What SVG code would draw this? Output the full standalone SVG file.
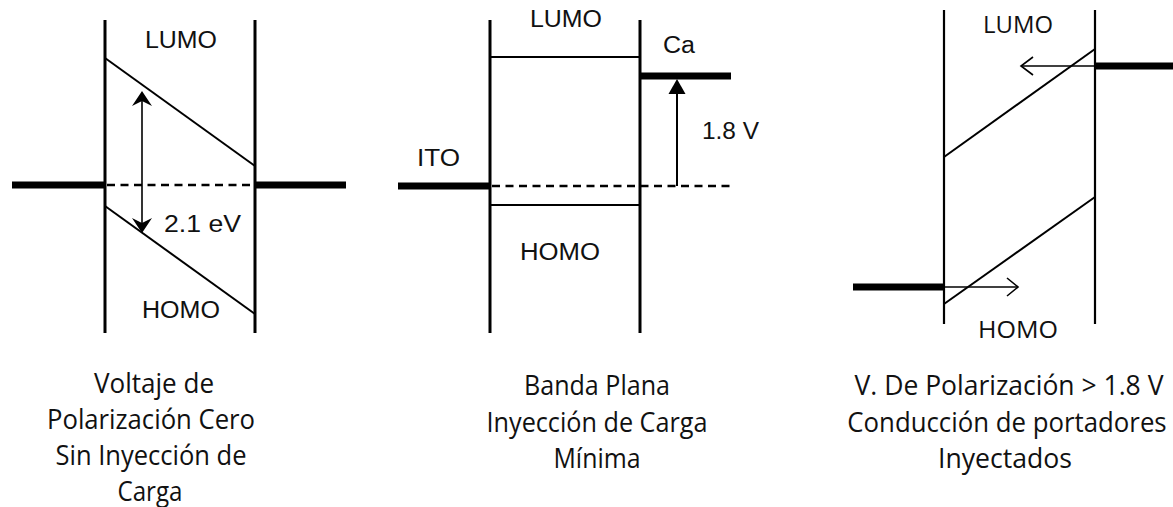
<svg xmlns="http://www.w3.org/2000/svg" width="1173" height="507" viewBox="0 0 1173 507">
<style>
.wall{stroke:#000;stroke-width:3;fill:none}
.wall3{stroke:#000;stroke-width:2.2;fill:none}
.band{stroke:#000;stroke-width:2;fill:none}
.metal{stroke:#000;stroke-width:7;fill:none}
.dash{stroke:#000;stroke-width:2.5;stroke-dasharray:8 5.5;fill:none}
.thin{stroke:#000;stroke-width:1.6;fill:none}
.lbl{font-family:"Liberation Sans",Arial,sans-serif;font-size:23.5px;fill:#111}
.lbl3{font-family:"Open Sans","Noto Sans",sans-serif;font-size:23px;fill:#111}
.cap{font-family:"Open Sans","Noto Sans",sans-serif;font-size:28px;fill:#111;text-anchor:middle}
</style>
<rect width="1173" height="507" fill="#fff"/>

<g id="panel1">
  <line class="wall" x1="105" y1="20" x2="105" y2="333"/>
  <line class="wall" x1="255" y1="20" x2="255" y2="333"/>
  <line class="band" x1="105" y1="58" x2="255" y2="166"/>
  <line class="band" x1="105" y1="206" x2="255" y2="314"/>
  <line class="metal" x1="12" y1="185" x2="105" y2="185"/>
  <line class="metal" x1="255" y1="185" x2="346" y2="185"/>
  <line class="dash" x1="107" y1="185" x2="253" y2="185"/>
  <line class="thin" x1="142" y1="98" x2="142" y2="226"/>
  <path d="M142,91 L152,106 L142,101 L132,106 Z" fill="#000"/>
  <path d="M142,233 L152,218 L142,223 L132,218 Z" fill="#000"/>
  <text class="lbl" x="145" y="48" textLength="72" lengthAdjust="spacingAndGlyphs">LUMO</text>
  <text class="lbl" x="164" y="232" textLength="77" lengthAdjust="spacingAndGlyphs">2.1 eV</text>
  <text class="lbl" x="142" y="318" textLength="78" lengthAdjust="spacingAndGlyphs">HOMO</text>
</g>

<g id="panel2">
  <line class="wall" x1="490" y1="20" x2="490" y2="333"/>
  <line class="wall" x1="640" y1="20" x2="640" y2="333"/>
  <line class="band" x1="490" y1="57" x2="640" y2="57"/>
  <line class="band" x1="490" y1="205" x2="640" y2="205"/>
  <line class="metal" x1="398" y1="186" x2="490" y2="186"/>
  <line class="metal" x1="640" y1="76" x2="731" y2="76"/>
  <line class="dash" x1="492" y1="186" x2="735" y2="186"/>
  <line class="band" x1="677" y1="186" x2="677" y2="92"/>
  <path d="M677,79 L685.5,94 L668.5,94 Z" fill="#000"/>
  <text class="lbl" x="530" y="27" textLength="72" lengthAdjust="spacingAndGlyphs">LUMO</text>
  <text class="lbl" x="663" y="53" textLength="32" lengthAdjust="spacingAndGlyphs">Ca</text>
  <text class="lbl" x="702" y="139" textLength="57" lengthAdjust="spacingAndGlyphs">1.8 V</text>
  <text class="lbl" x="417" y="166" textLength="43" lengthAdjust="spacingAndGlyphs">ITO</text>
  <text class="lbl" x="520" y="260" textLength="80" lengthAdjust="spacingAndGlyphs">HOMO</text>
</g>

<g id="panel3">
  <line class="wall3" x1="944" y1="10" x2="944" y2="324"/>
  <line class="wall3" x1="1095" y1="10" x2="1095" y2="324"/>
  <line class="band" x1="944" y1="157" x2="1095" y2="49"/>
  <line class="band" x1="944" y1="304" x2="1095" y2="197"/>
  <line class="metal" x1="1095" y1="66" x2="1173" y2="66"/>
  <line class="metal" x1="853" y1="287" x2="944" y2="287"/>
  <line class="thin" x1="1095" y1="66" x2="1021" y2="66"/>
  <polyline class="thin" points="1033,57 1021,66 1033,75"/>
  <line class="thin" x1="944" y1="287" x2="1018" y2="287"/>
  <polyline class="thin" points="1007,278 1018,287 1007,296"/>
  <text class="lbl3" x="983" y="33" textLength="70" lengthAdjust="spacingAndGlyphs">LUMO</text>
  <text class="lbl3" x="978" y="338" textLength="80" lengthAdjust="spacingAndGlyphs">HOMO</text>
</g>

<g id="captions">
  <text class="cap" x="154" y="393" textLength="120" lengthAdjust="spacingAndGlyphs">Voltaje de</text>
  <text class="cap" x="151" y="429" textLength="208" lengthAdjust="spacingAndGlyphs">Polarización Cero</text>
  <text class="cap" x="151" y="465" textLength="191" lengthAdjust="spacingAndGlyphs">Sin Inyección de</text>
  <text class="cap" x="150" y="501" textLength="65" lengthAdjust="spacingAndGlyphs">Carga</text>
  <text class="cap" x="597" y="395" textLength="146" lengthAdjust="spacingAndGlyphs">Banda Plana</text>
  <text class="cap" x="597" y="432" textLength="221" lengthAdjust="spacingAndGlyphs">Inyección de Carga</text>
  <text class="cap" x="597" y="468" textLength="87" lengthAdjust="spacingAndGlyphs">Mínima</text>
  <text class="cap" transform="translate(1009,395) scale(0.87,1)" x="0" y="0" textLength="355" lengthAdjust="spacingAndGlyphs">V. De Polarización &gt; 1.8 V</text>
  <text class="cap" transform="translate(1007,432) scale(0.87,1)" x="0" y="0" textLength="367" lengthAdjust="spacingAndGlyphs">Conducción de portadores</text>
  <text class="cap" x="1005" y="468" textLength="134" lengthAdjust="spacingAndGlyphs">Inyectados</text>
</g>
</svg>
